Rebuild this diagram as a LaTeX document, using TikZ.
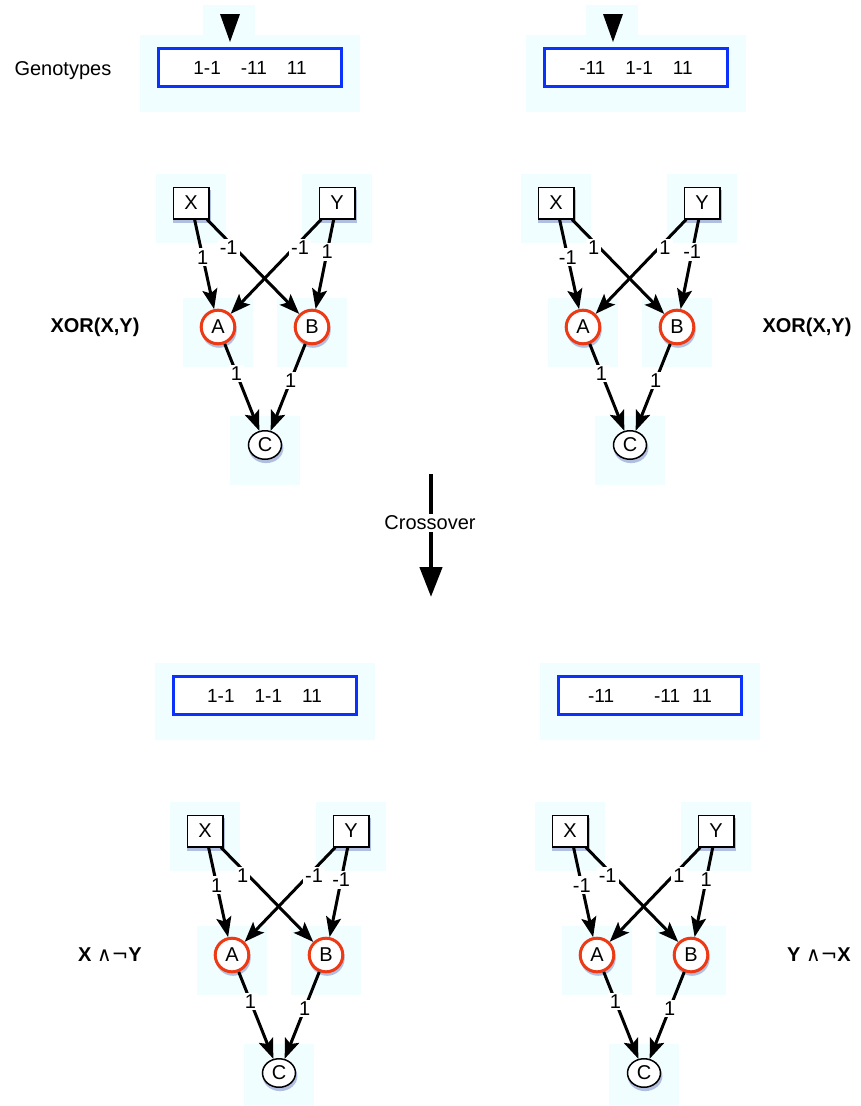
\documentclass[tikz,border=0pt]{standalone}
\usepackage{fontspec}
\setmainfont{Liberation Sans}
\newfontfamily\dvsans{DejaVu Sans}
\usetikzlibrary{arrows.meta,shapes.geometric,shadows,calc}
\pgfdeclarelayer{background}
\pgfsetlayers{background,main}

\definecolor{halocyan}{RGB}{240,254,255}
\definecolor{genoblue}{RGB}{10,50,250}
\definecolor{hidred}{RGB}{238,58,20}
\definecolor{shadowblue}{RGB}{80,95,175}

\tikzset{
  basefont/.style={font=\fontsize{20}{23}\selectfont},
  nshadow/.style={drop shadow={fill=shadowblue,opacity=0.4,shadow xshift=1pt,shadow yshift=-3pt,shadow scale=1.05}},
  inbox/.style={basefont,rectangle,draw=black,fill=white,line width=1.5pt,
    minimum width=35.5pt,minimum height=31.5pt,inner sep=0pt,nshadow},
  hidnode/.style={basefont,circle,draw=hidred,fill=white,line width=3pt,
    minimum size=33.6pt,inner sep=0pt,nshadow},
  outnode/.style={basefont,ellipse,draw=black,fill=white,line width=1.5pt,
    minimum width=33pt,minimum height=28.5pt,inner sep=0pt,nshadow},
  link/.style={line width=3pt,-{Stealth[length=20pt,width=15pt,inset=4pt]}},
  wlabel/.style={basefont,fill=white,inner sep=2pt},
  halo/.style={fill=halocyan},
  genobox/.style={draw=genoblue,fill=white,line width=3pt,minimum width=183pt,
    minimum height=38pt,inner sep=0pt,font=\fontsize{19}{22}\selectfont},
  plain/.style={font=\fontsize{20}{24}\selectfont},
  boldlabel/.style={font=\fontsize{20}{24}\selectfont\bfseries}
}

% one network: prefix, shift x, shift y, weights X->A, X->B, Y->A, Y->B
\newcommand\netw[7]{%
  \begin{scope}[shift={(#2,#3)}]
    \node[inbox] (#1X) at (191,203) {X};
    \node[inbox] (#1Y) at (337,203) {Y};
    \node[hidnode] (#1A) at (218,327) {A};
    \node[hidnode] (#1B) at (312,327) {B};
    \node[outnode] (#1C) at (265,445) {C};
    \begin{pgfonlayer}{background}
      \foreach \n in {X,Y,A,B,C}
        \fill[halo] ($(#1\n)+(-35,-29)$) rectangle ($(#1\n)+(35,40)$);
    \end{pgfonlayer}
    \draw[link] (#1X) -- node[wlabel,pos=.42] {#4} (#1A);
    \draw[link] (#1X) -- node[wlabel,pos=.3,xshift=-6pt] {#5} (#1B);
    \draw[link] (#1Y) -- node[wlabel,pos=.3,xshift=6pt] {#6} (#1A);
    \draw[link] (#1Y) -- node[wlabel,pos=.36] {#7} (#1B);
    \draw[link] (#1A) -- node[wlabel,pos=.34] {1} (#1C);
    \draw[link] (#1B) -- node[wlabel,pos=.42] {1} (#1C);
  \end{scope}}

% genotype box with its halo: name, centre, text
\newcommand\geno[3]{%
  \node[genobox] (#1) at #2 {#3};
  \begin{pgfonlayer}{background}
    \fill[halo] ($(#1)+(-110,-32.5)$) rectangle ($(#1)+(110,44.5)$);
  \end{pgfonlayer}}

\newcommand\gsp{\hspace{20pt}}

\begin{document}
\begin{tikzpicture}[x=1pt,y=-1pt]
  \useasboundingbox (0,0) rectangle (860,1106);

  % genotypes of the two parents
  \geno{g1}{(250,67.5)}{1-1\gsp-11\gsp11}
  \geno{g2}{(636,67.5)}{-11\gsp1-1\gsp11}
  % selection markers above the parents
  \foreach \name/\x in {m1/230,m2/613}{
    \coordinate (\name) at (\x,42);
    \begin{pgfonlayer}{background}
      \fill[halo] ($(\name)+(-27,-37)$) rectangle ($(\name)+(25,3)$);
    \end{pgfonlayer}
    \fill[black] (\name) -- ++(-10,-28) -- ++(20,0) -- cycle;
  }
  \node[plain,anchor=west] (gl) at (11,71) {Genotypes};

  % parent networks
  \netw{p}{0}{0}{1}{-1}{-1}{1}
  \netw{q}{365}{0}{-1}{1}{1}{-1}
  \node[boldlabel] (f1) at (95,327) {XOR(X,Y)};
  \node[boldlabel] (f2) at (807,327) {XOR(X,Y)};

  % crossover
  \coordinate (cs) at (431,474);
  \coordinate (ce) at (431,597);
  \draw[line width=4.5pt,-{Triangle[length=30pt,width=22pt]}] (cs) -- (ce);
  \node[plain,fill=white,inner sep=2pt] (cx) at (430,523) {Crossover};

  % offspring genotypes
  \geno{g3}{(264.5,695.5)}{1-1\gsp1-1\gsp11}
  \geno{g4}{(650,695.5)}{-11\hspace{40pt}-11\hspace{12pt}11}

  % offspring networks
  \netw{r}{14}{628}{1}{1}{-1}{-1}
  \netw{s}{379}{628}{-1}{-1}{1}{1}
  \node[boldlabel] (f3) at (110,955) {X {\mdseries\dvsans ∧¬}Y};
  \node[boldlabel] (f4) at (819,955) {Y {\mdseries\dvsans ∧¬}X};
\end{tikzpicture}
\end{document}
